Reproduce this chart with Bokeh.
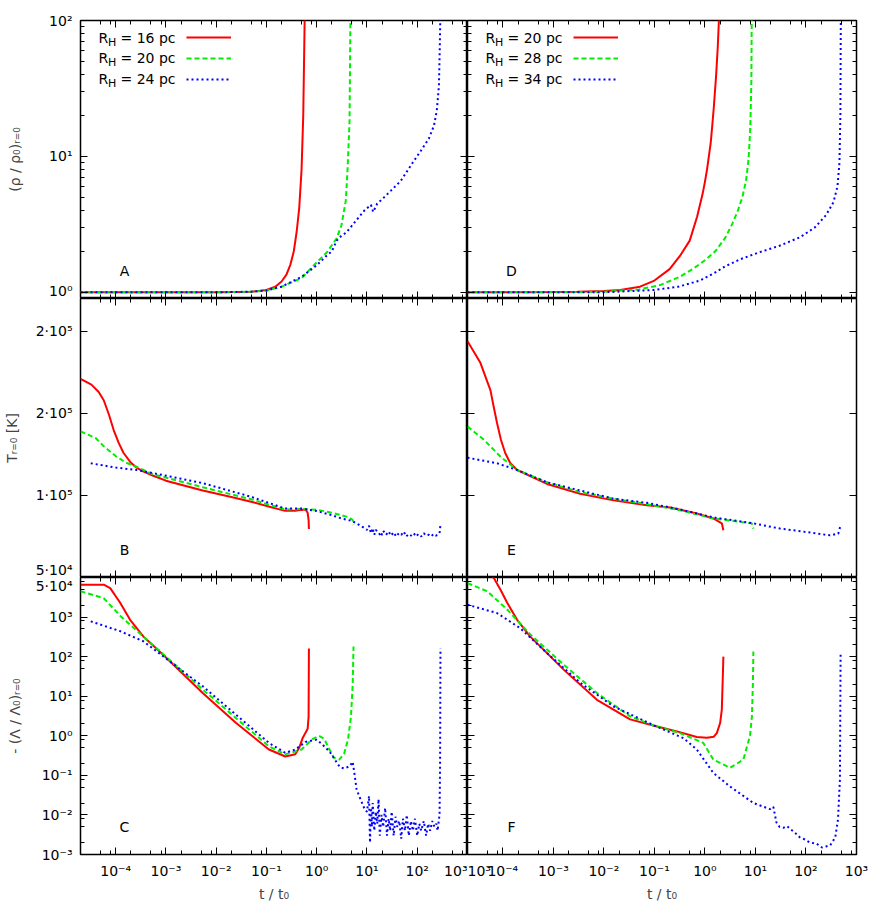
import math
from bokeh.plotting import figure
from bokeh.models import (FixedTicker, Label, Legend, LegendItem, LogAxis,
                          LinearAxis, Range1d)
from bokeh.layouts import gridplot
from bokeh.embed import file_html
from bokeh.resources import INLINE

# ---------------- data ----------------
# Panel A : central density, models R_H = 16, 20, 24 pc
tA_red = [2e-5, 1e-2, 0.05, 0.1, 0.15, 0.2, 0.25, 0.3, 0.35, 0.4, 0.45, 0.5, 0.54, 0.58]
rA_red = [1.0, 1.0, 1.01, 1.04, 1.1, 1.2, 1.35, 1.6, 2.0, 2.8, 4.2, 8.0, 20, 120]
tA_green = [2e-5, 1e-2, 0.05, 0.1, 0.2, 0.5, 1.0, 1.6, 2.5, 3.1, 3.8, 4.1, 4.5, 4.7]
rA_green = [1.0, 1.0, 1.01, 1.03, 1.1, 1.27, 1.66, 1.97, 2.5, 3.1, 4.75, 7.9, 18, 120]
tA_blue = [2e-5, 1e-2, 0.05, 0.1, 0.2, 0.5, 1.0, 1.6, 2.0, 2.5, 3.1, 3.9, 6.2, 8.9, 12,
           13.3, 16, 19, 30, 47, 75, 118, 170, 215, 245, 270, 280, 290]
rA_blue = [1.0, 1.0, 1.01, 1.03, 1.1, 1.3, 1.58, 1.87, 2.0, 2.4, 2.6, 2.76, 3.4, 4.0, 4.4,
           3.9, 4.5, 4.75, 5.6, 6.6, 8.6, 11, 13.5, 16.8, 21.7, 33, 60, 120]

# Panel D : central density, models R_H = 20, 28, 34 pc
tD_red = [2e-5, 1e-3, 3e-3, 0.01, 0.021, 0.052, 0.1, 0.2, 0.32, 0.5, 0.7, 0.9, 1.0, 1.1,
          1.3, 1.4, 1.5, 1.67, 1.8, 1.93]
rD_red = [1.0, 1.005, 1.01, 1.02, 1.04, 1.1, 1.22, 1.48, 1.85, 2.4, 3.6, 5.3, 6.5, 8.0,
          12.5, 17, 23, 40, 65, 120]
tD_green = [2e-5, 1e-3, 0.01, 0.05, 0.13, 0.32, 0.6, 1.0, 1.6, 2.5, 3.5, 4.5, 5.5, 6.5,
            7.3, 7.9, 8.3, 8.45]
rD_green = [1.0, 1.0, 1.01, 1.05, 1.13, 1.3, 1.5, 1.72, 2.0, 2.5, 3.2, 4.0, 5.0, 6.6,
            9.5, 16, 35, 120]
tD_blue = [2e-5, 0.01, 0.1, 0.3, 0.8, 1.5, 2.5, 5.0, 12, 30, 76, 150, 250, 350, 420, 460,
           480, 490]
rD_blue = [1.0, 1.0, 1.04, 1.1, 1.22, 1.38, 1.55, 1.75, 1.97, 2.2, 2.54, 3.0, 3.7, 4.6,
           6.0, 9.0, 20, 120]

# Panel B : central temperature [K]
tB_red = [2e-5, 3.3e-5, 4.6e-5, 5.8e-5, 7.4e-5, 9.1e-5, 1.15e-4, 1.43e-4, 2e-4, 2.6e-4,
          3.6e-4, 5.6e-4, 1e-3, 5.4e-3, 0.02, 0.052, 0.12, 0.235, 0.375, 0.5, 0.6, 0.66,
          0.69, 0.7]
TB_red = [171e3, 167.5e3, 163e3, 158e3, 149e3, 140e3, 132e3, 126e3, 120e3, 117e3, 114.5e3,
          112e3, 109e3, 103e3, 99e3, 96e3, 93e3, 90.6e3, 90.6e3, 91.2e3, 91.5e3, 89.5e3,
          85e3, 79.5e3]
tB_green = [2e-5, 4e-5, 5.8e-5, 1e-4, 1.6e-4, 2.6e-4, 5.6e-4, 5.4e-3, 0.052, 0.235, 0.5,
            1.0, 2.0, 3.1, 4.5, 5.2, 5.4]
TB_green = [139e3, 135e3, 130e3, 124e3, 120e3, 117.5e3, 112.8e3, 105e3, 97.5e3, 91.4e3,
            91.8e3, 91.3e3, 89.5e3, 88e3, 86.5e3, 85e3, 82e3]
tB_blue = [3.2e-5, 1e-4, 2.6e-4, 5.6e-4, 5.4e-3, 0.052, 0.235, 0.5, 1.0, 2.0, 3.1, 5.0,
           7, 8, 9, 10, 11, 12, 13, 14, 15, 17, 19, 21, 24, 27, 30, 34, 38, 43, 48, 54, 60,
           68, 76, 85, 95, 105, 120, 135, 150, 170, 190, 210, 235, 255, 270, 282, 290]
TB_blue = [119.6e3, 117e3, 115.5e3, 113.6e3, 107.5e3, 99e3, 92e3, 92e3, 90.5e3, 88e3,
           86e3, 84.5e3, 82e3, 81e3, 80e3, 79e3, 81.5e3, 77e3, 80e3, 76e3, 79e3, 77.5e3,
           75e3, 78.5e3, 76e3, 78e3, 75.5e3, 77.5e3, 75e3, 77e3, 76e3, 78e3, 75e3, 76.5e3,
           75.5e3, 77e3, 75e3, 76.5e3, 75e3, 77e3, 75.5e3, 76e3, 75e3, 76.5e3, 75.5e3,
           76e3, 76.5e3, 78e3, 83e3]

# Panel E : central temperature [K]
tE_red = [2e-5, 3.6e-5, 5.7e-5, 6.6e-5, 7.7e-5, 9.2e-5, 1.12e-4, 1.41e-4, 1.92e-4,
          7.5e-4, 3.4e-3, 0.0156, 0.071, 0.205, 0.69, 1.47, 2.16, 2.32]
TE_red = [194e3, 180.8e3, 164e3, 154e3, 144e3, 133.8e3, 125.7e3, 119.6e3, 115.5e3,
          107e3, 101e3, 97e3, 94e3, 92.7e3, 89e3, 86e3, 83e3, 78.8e3]
tE_green = [2e-5, 4.2e-5, 9e-5, 1.92e-4, 7.5e-4, 3.4e-3, 0.0156, 0.071, 0.32, 1.47,
            8.45, 9.1]
TE_green = [142e3, 134e3, 123.6e3, 115.5e3, 108e3, 102e3, 98e3, 94.7e3, 91e3, 86e3,
            83e3, 79.8e3]
tE_blue = [2e-5, 7.7e-5, 1.92e-4, 7.5e-4, 3.4e-3, 0.0156, 0.071, 0.32, 1.47, 9.1, 30.6,
           103, 298, 435, 485]
TE_blue = [123e3, 119.6e3, 115.5e3, 108e3, 103e3, 98e3, 95.5e3, 91.5e3, 86.6e3, 83e3,
           79.8e3, 77.7e3, 75.7e3, 76.7e3, 81.8e3]

# Panel C : - (Lambda / Lambda_0) at r = 0
tC_red = [2e-5, 5.8e-5, 7.8e-5, 1.23e-4, 1.94e-4, 3.55e-4, 8.8e-4, 5.4e-3, 0.0246, 0.112,
          0.238, 0.375, 0.45, 0.52, 0.6, 0.66, 0.69, 0.7]
LC_red = [6.6e3, 6.6e3, 5.4e3, 2.3e3, 850, 324, 112, 12, 2.14, 0.45, 0.3, 0.34, 0.5,
          0.85, 1.2, 1.5, 3.0, 160]
tC_green = [2e-5, 5.8e-5, 1.26e-4, 3.55e-4, 5.4e-3, 0.112, 0.238, 0.375, 0.5, 0.8, 1.1,
            1.4, 1.8, 2.2, 2.8, 3.5, 4.2, 4.8, 5.2, 5.4]
LC_green = [4.5e3, 3.0e3, 1.05e3, 324, 14.8, 0.54, 0.34, 0.4, 0.45, 0.8, 1.0, 0.85, 0.45,
            0.28, 0.25, 0.35, 0.8, 3.0, 20, 180]
tC_blue = [3.2e-5, 1.25e-4, 3.55e-4, 5.4e-3, 0.112, 0.238, 0.375, 0.6, 1.0, 1.3, 1.8,
           2.3, 2.9, 3.6, 4.5, 5.2, 5.7, 6.2, 7.0, 8.0, 9.0, 10, 11, 11.5, 12, 12.5, 13,
           14, 15, 16, 17, 18, 19.5, 21, 23, 25, 27, 29, 31, 34, 37, 40, 44, 48, 52, 57,
           62, 68, 75, 82, 90, 100, 110, 120, 135, 150, 165, 180, 200, 220, 240, 255,
           268, 278, 285, 290]
LC_blue = [780, 437, 245, 17.8, 0.66, 0.37, 0.45, 0.7, 0.8, 0.6, 0.4, 0.25, 0.16, 0.15,
           0.17, 0.22, 0.1, 0.045, 0.03, 0.02, 0.014, 0.012, 0.03, 0.002, 0.015, 0.005,
           0.02, 0.004, 0.012, 0.006, 0.025, 0.003, 0.01, 0.005, 0.015, 0.003, 0.008,
           0.004, 0.012, 0.003, 0.009, 0.005, 0.007, 0.0025, 0.008, 0.004, 0.01, 0.003,
           0.007, 0.004, 0.008, 0.003, 0.006, 0.004, 0.007, 0.003, 0.006, 0.004, 0.007,
           0.005, 0.006, 0.004, 0.007, 0.01, 0.2, 160]

# Panel F : - (Lambda / Lambda_0) at r = 0
tF_red = [2e-5, 4e-5, 6.6e-5, 9e-5, 1.22e-4, 1.92e-4, 3.5e-4, 1.6e-3, 7.3e-3, 0.033,
          0.099, 0.28, 0.69, 1.09, 1.5, 1.72, 2.0, 2.16, 2.25, 2.32]
LF_red = [2.0e4, 1.6e4, 9.8e3, 4.9e3, 2.3e3, 850, 320, 47, 8.1, 2.6, 1.8, 1.29, 0.93,
          0.89, 0.95, 1.17, 2.1, 4.6, 26, 100]
tF_green = [2e-5, 4.9e-5, 1.22e-4, 3.5e-4, 1.6e-3, 7.3e-3, 0.033, 0.099, 0.32, 0.93,
            1.47, 3.15, 5.77, 7.8, 8.5, 8.9, 9.1]
LF_green = [7.2e3, 4.5e3, 1.55e3, 363, 63, 12, 3.1, 1.8, 1.17, 0.66, 0.25, 0.155, 0.25,
            1.0, 3.0, 20, 135]
tF_blue = [2e-5, 7.7e-5, 2.2e-4, 7.5e-4, 3.4e-3, 0.0156, 0.099, 0.376, 0.69, 1.47, 3.15,
           9.1, 19.4, 22.6, 26, 30, 35.5, 42, 50, 60, 76, 95, 120, 160, 208, 250, 300,
           380, 430, 470, 485]
LF_blue = [2.05e3, 1.26e3, 525, 123, 21.9, 5.5, 1.82, 0.87, 0.45, 0.115, 0.052, 0.02,
           0.014, 0.016, 0.0065, 0.005, 0.0047, 0.0052, 0.0043, 0.0036, 0.0027, 0.0024,
           0.002, 0.0019, 0.0015, 0.0016, 0.0017, 0.0027, 0.0076, 0.08, 130]

LEGEND_LEFT = ["16 pc", "20 pc", "24 pc"]
LEGEND_RIGHT = ["20 pc", "28 pc", "34 pc"]
PANEL_TAGS = [["A", "D"], ["B", "E"], ["C", "F"]]

# ---------------- styling ----------------
FONT = "DejaVu Sans"
RED, GREEN, BLUE = "#ff0000", "#00ee00", "#0000ff"
STYLES = [dict(color=RED, line_width=2),
          dict(color=GREEN, line_width=2, line_dash="5 3"),
          dict(color=BLUE, line_width=2, line_dash="2 3")]

SUP = str.maketrans("-0123456789", "⁻⁰¹²³⁴⁵⁶⁷⁸⁹")


def p10(k):
    return "10" + str(k).translate(SUP)


X_LO, X_HI = 2e-5, 1e3
x_major = [10.0 ** k for k in range(-4, 4)]
x_minor = [m * 10.0 ** k for k in range(-5, 3) for m in (2, 5, 8)
           if X_LO <= m * 10.0 ** k <= X_HI]
x_labels = {10.0 ** k: p10(k) for k in range(-4, 4)}

yA_major = [1.0, 10.0, 100.0]
yA_minor = [m * 10.0 ** k for k in (-1, 0, 1) for m in range(2, 10)
            if 0.9 <= m * 10.0 ** k <= 100]
yA_labels = {1.0: p10(0), 10.0: p10(1), 100.0: p10(2)}

yB_major = [5e4, 1e5, 1.5e5, 2e5]
yB_labels = {5e4: "5·10⁴", 1e5: "1·10⁵", 1.5e5: "2·10⁵", 2e5: "2·10⁵"}

yC_major = [10.0 ** k for k in range(-3, 5)]
yC_minor = [m * 10.0 ** k for k in range(-3, 4) for m in (2, 5, 8)]
yC_labels = {10.0 ** k: p10(k) for k in range(-3, 4)}
yC_labels[1e4] = "5·10⁴"

ROW_H = [298, 279, 327]
COL_W = [467, 405]


def style_axis(ax, ticks, minor, labels):
    ax.ticker = FixedTicker(ticks=ticks, minor_ticks=minor)
    ax.axis_line_color = None
    ax.major_tick_in, ax.major_tick_out = 7, 0
    ax.minor_tick_in, ax.minor_tick_out = 4, 0
    ax.major_tick_line_color = "black"
    ax.minor_tick_line_color = "black"
    ax.major_tick_line_width = 1
    ax.minor_tick_line_width = 1
    if labels is None:
        ax.major_label_text_font_size = "1px"
        ax.major_label_text_alpha = 0
        ax.major_label_standoff = -6
    else:
        ax.major_label_overrides = labels
        ax.major_label_text_font = FONT
        ax.major_label_text_font_size = "14px"
        ax.major_label_text_color = "black"
        ax.major_label_standoff = 8


def make_panel(row, col, series, y_range, y_type, ymaj, ymin, ylab):
    p = figure(width=COL_W[col], height=ROW_H[row], x_axis_type="log", y_axis_type=y_type,
               x_range=Range1d(X_LO, X_HI), y_range=Range1d(*y_range),
               output_backend="svg", toolbar_location=None, min_border=0)
    p.min_border_left = 77 if col == 0 else 0
    p.min_border_right = 0 if col == 0 else 16
    p.min_border_top = 20 if row == 0 else 0
    p.min_border_bottom = 49 if row == 2 else 0
    p.xgrid.visible = False
    p.ygrid.visible = False
    p.outline_line_color = "black"
    p.outline_line_width = 1.5
    p.background_fill_color = "white"
    p.border_fill_color = "white"

    bottom_axis = p.xaxis[0]
    left_axis = p.yaxis[0]
    xl = None
    if row == 2:
        xl = dict(x_labels)
        if col == 1:
            xl[X_LO] = p10(3)
    xt = x_major + ([X_LO] if (row == 2 and col == 1) else [])
    style_axis(bottom_axis, xt, x_minor, xl)
    style_axis(left_axis, ymaj, ymin, ylab if col == 0 else None)
    top = LogAxis()
    style_axis(top, x_major, x_minor, None)
    p.add_layout(top, "above")
    right = LogAxis() if y_type == "log" else LinearAxis()
    style_axis(right, ymaj, ymin, None)
    p.add_layout(right, "right")

    renderers = []
    for (t, v), st in zip(series, STYLES):
        renderers.append(p.line(t, v, **st))
    return p, renderers, bottom_axis, left_axis


def add_text(p, x, y, text, size="14px", align="left"):
    p.add_layout(Label(x=x, y=y, x_units="screen", y_units="screen", text=text,
                       text_font=FONT, text_font_size=size, text_color="black",
                       text_align=align, text_baseline="middle"))


specs = [
    [([(tA_red, rA_red), (tA_green, rA_green), (tA_blue, rA_blue)],
      [(tD_red, rD_red), (tD_green, rD_green), (tD_blue, rD_blue)]),
     (0.9, 100), "log", yA_major, yA_minor, yA_labels],
    [([(tB_red, TB_red), (tB_green, TB_green), (tB_blue, TB_blue)],
      [(tE_red, TE_red), (tE_green, TE_green), (tE_blue, TE_blue)]),
     (5e4, 2.2e5), "linear", yB_major, [], yB_labels],
    [([(tC_red, LC_red), (tC_green, LC_green), (tC_blue, LC_blue)],
      [(tF_red, LF_red), (tF_green, LF_green), (tF_blue, LF_blue)]),
     (1e-3, 1e4), "log", yC_major, yC_minor, yC_labels],
]

Y_TITLES = ["(ρ / ρ₀)ᵣ₌₀", "Tᵣ₌₀ [K]", "- (Λ / Λ₀)ᵣ₌₀"]
Y_TITLE_STANDOFF = [23, 13, 10]

panels = [[None, None], [None, None], [None, None]]
for row, (series_pair, yr, ytype, ymaj, ymin, ylab) in enumerate(specs):
    for col in range(2):
        p, rs, bax, lax = make_panel(row, col, series_pair[col], yr, ytype, ymaj, ymin, ylab)
        panels[row][col] = p
        add_text(p, 44, 28, PANEL_TAGS[row][col], align="center")
        if col == 0:
            lax.axis_label = Y_TITLES[row]
            lax.axis_label_text_font = FONT
            lax.axis_label_text_font_size = "14px"
            lax.axis_label_text_font_style = "normal"
            lax.axis_label_standoff = Y_TITLE_STANDOFF[row]
        if row == 2:
            bax.axis_label = "t / t₀"
            bax.axis_label_text_font = FONT
            bax.axis_label_text_font_size = "14px"
            bax.axis_label_text_font_style = "normal"
            bax.axis_label_standoff = 4
        if row == 0:
            names = LEGEND_LEFT if col == 0 else LEGEND_RIGHT
            legend = Legend(items=[LegendItem(label=" ", renderers=[r]) for r in rs],
                            location=(106, 209), border_line_color=None,
                            background_fill_alpha=0, padding=0, margin=0, spacing=1,
                            glyph_width=45, glyph_height=20, label_width=1,
                            label_standoff=0, label_text_font_size="10px")
            p.add_layout(legend, "center")
            for i, nm in enumerate(names):
                yy = 261 - 20.5 * i
                add_text(p, 18, yy, "R")
                add_text(p, 27.5, yy - 4.5, "H", size="11px")
                add_text(p, 40, yy, "= " + nm)

grid = gridplot([[panels[r][0], panels[r][1]] for r in range(3)],
                toolbar_location=None)

open("out.html", "w").write(file_html(grid, INLINE))
